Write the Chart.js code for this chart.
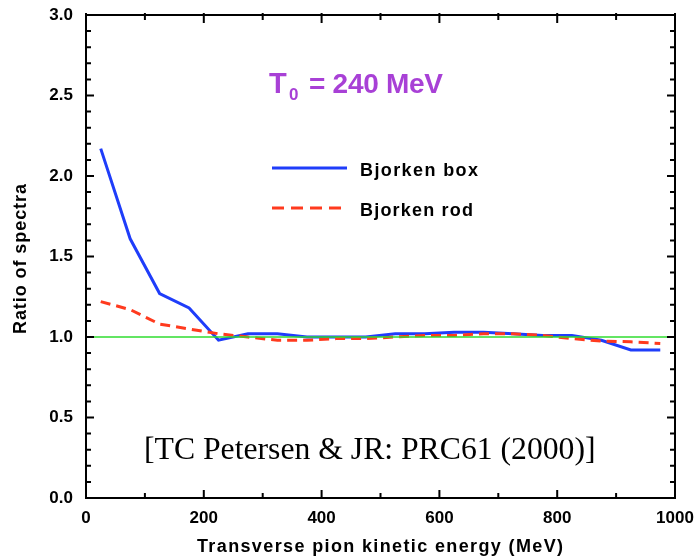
<!DOCTYPE html>
<html>
<head>
<meta charset="utf-8">
<script src="https://cdn.jsdelivr.net/npm/chart.js@4/dist/chart.umd.min.js"></script>
<style>
  html, body { margin: 0; padding: 0; background: #ffffff; }
  #wrap { width: 698px; height: 559px; position: relative; }
</style>
</head>
<body>
<div id="wrap"><canvas id="c" width="698" height="559"></canvas></div>
<script>
// ---- data ----
const energies = [25, 75, 125, 175, 225, 275, 325, 375, 425, 475, 525, 575, 625, 675, 725, 775, 825, 875, 925, 975];
const bjorkenBox = [2.17, 1.61, 1.27, 1.18, 0.98, 1.02, 1.02, 1.00, 1.00, 1.00, 1.02, 1.02, 1.03, 1.03, 1.02, 1.01, 1.01, 0.98, 0.92, 0.92];
const bjorkenRod = [1.22, 1.17, 1.08, 1.05, 1.02, 1.00, 0.98, 0.98, 0.99, 0.99, 1.00, 1.01, 1.01, 1.02, 1.02, 1.01, 0.99, 0.975, 0.97, 0.96];
const referenceX = [0, 1000];
const referenceY = [1, 1];
const xTickLabels = ['0', '200', '400', '600', '800', '1000'];
const yTickLabels = ['0.0', '0.5', '1.0', '1.5', '2.0', '2.5', '3.0'];
const seriesNames = ['Bjorken box', 'Bjorken rod'];
const annotationTitle = 'T';
const annotationSub = '0';
const annotationRest = '= 240 MeV';
const citation = '[TC Petersen & JR: PRC61 (2000)]';
const xTitle = 'Transverse pion kinetic energy (MeV)';
const yTitle = 'Ratio of spectra';

const BLUE = '#1f3dfa';
const RED = '#ff3a1e';
const GREEN = '#2fdc2f';
const PURPLE = '#a840d6';
const FONT = '"Liberation Sans", Arial, Helvetica, sans-serif';

const toPts = (xs, ys) => xs.map((x, i) => ({ x: x, y: ys[i] }));

// draw text stretched (via letter spacing) to a target width
function fitText(ctx, text, x, y, width) {
  ctx.letterSpacing = '0px';
  const w = ctx.measureText(text).width;
  const n = Math.max(1, text.length - 1);
  const ls = (width - w) / n;
  ctx.letterSpacing = ls.toFixed(2) + 'px';
  ctx.fillText(text, x, y);
  ctx.letterSpacing = '0px';
}

const decorPlugin = {
  id: 'decor',
  afterDatasetsDraw(chart) {
    const ctx = chart.ctx;
    const xs = chart.scales.x, ys = chart.scales.y;
    const a = chart.chartArea;
    ctx.save();
    // frame
    ctx.strokeStyle = '#000';
    ctx.lineWidth = 2;
    ctx.strokeRect(a.left, a.top, a.right - a.left, a.bottom - a.top);
    // inward ticks
    ys.ticks.forEach(t => {
      const v = Math.round(t.value * 10) / 10;
      const major = Math.abs(v * 2 - Math.round(v * 2)) < 1e-6;
      const len = major ? 8 : 5;
      const py = ys.getPixelForValue(v);
      ctx.beginPath();
      ctx.moveTo(a.left, py); ctx.lineTo(a.left + len, py);
      ctx.moveTo(a.right, py); ctx.lineTo(a.right - len, py);
      ctx.stroke();
    });
    xs.ticks.forEach(t => {
      const major = Math.round(t.value) % 200 === 0;
      const len = major ? 8 : 5;
      const px = xs.getPixelForValue(t.value);
      ctx.beginPath();
      ctx.moveTo(px, a.bottom); ctx.lineTo(px, a.bottom - len);
      ctx.moveTo(px, a.top - 2); ctx.lineTo(px, a.top + len);
      ctx.stroke();
    });

    // annotation T0 = 240 MeV
    ctx.fillStyle = PURPLE;
    ctx.textBaseline = 'alphabetic';
    ctx.textAlign = 'left';
    ctx.font = 'bold 29px ' + FONT;
    ctx.fillText(annotationTitle, 269, 93);
    ctx.font = 'bold 17px ' + FONT;
    ctx.fillText(annotationSub, 289, 100);
    ctx.font = 'bold 28px ' + FONT;
    fitText(ctx, annotationRest, 309, 93, 134);

    // legend
    ctx.lineWidth = 3;
    ctx.strokeStyle = BLUE;
    ctx.setLineDash([]);
    ctx.beginPath(); ctx.moveTo(272, 168); ctx.lineTo(347, 168); ctx.stroke();
    ctx.strokeStyle = RED;
    ctx.setLineDash([12, 7]);
    ctx.beginPath(); ctx.moveTo(272, 208); ctx.lineTo(347, 208); ctx.stroke();
    ctx.setLineDash([]);
    ctx.fillStyle = '#000';
    ctx.font = 'bold 18px ' + FONT;
    ctx.textBaseline = 'alphabetic';
    fitText(ctx, seriesNames[0], 360, 176, 118);
    fitText(ctx, seriesNames[1], 360, 216, 113);

    // citation
    ctx.font = '31.7px "Liberation Serif", "Times New Roman", serif';
    ctx.fillText(citation, 144, 459);

    // axis titles
    ctx.font = 'bold 18px ' + FONT;
    ctx.textAlign = 'left';
    ctx.textBaseline = 'alphabetic';
    fitText(ctx, xTitle, 197, 552, 366);
    ctx.save();
    ctx.translate(26, 334);
    ctx.rotate(-Math.PI / 2);
    fitText(ctx, yTitle, 0, 0, 150);
    ctx.restore();
    ctx.restore();
  }
};

new Chart(document.getElementById('c'), {
  type: 'line',
  data: {
    datasets: [
      { label: 'reference', data: toPts(referenceX, referenceY), borderColor: GREEN, borderWidth: 1.5, pointRadius: 0, order: 0, tension: 0 },
      { label: seriesNames[0], data: toPts(energies, bjorkenBox), borderColor: BLUE, borderWidth: 3, pointRadius: 0, order: 2, tension: 0 },
      { label: seriesNames[1], data: toPts(energies, bjorkenRod), borderColor: RED, borderWidth: 3, borderDash: [10, 6], pointRadius: 0, order: 1, tension: 0 }
    ]
  },
  options: {
    responsive: false,
    animation: false,
    devicePixelRatio: 1,
    layout: { padding: { left: 0, top: 15, right: 23, bottom: 0 } },
    plugins: { legend: { display: false }, tooltip: { enabled: false }, title: { display: false } },
    scales: {
      x: {
        type: 'linear', min: 0, max: 1000,
        grid: { display: false, drawTicks: false },
        border: { display: false },
        ticks: {
          stepSize: 100, autoSkip: false, maxRotation: 0, padding: 10,
          color: '#000', font: { family: FONT, size: 17, weight: 'bold' },
          callback: (v) => { const i = xTickLabels.indexOf(String(Math.round(v))); return i >= 0 ? xTickLabels[i] : ''; }
        },
        afterFit: (s) => { s.height = 61; s.paddingLeft = 0; s.paddingRight = 0; }
      },
      y: {
        type: 'linear', min: 0, max: 3,
        grid: { display: false, drawTicks: false },
        border: { display: false },
        ticks: {
          stepSize: 0.1, autoSkip: false, padding: 13,
          color: '#000', font: { family: FONT, size: 17, weight: 'bold' },
          callback: (v) => { const s = (Math.round(v * 10) / 10).toFixed(1); return yTickLabels.includes(s) && Math.abs(v * 2 - Math.round(v * 2)) < 1e-6 ? s : ''; }
        },
        afterFit: (s) => { s.width = 86; s.paddingTop = 0; s.paddingBottom = 0; }
      }
    }
  },
  plugins: [decorPlugin]
});
</script>
</body>
</html>
